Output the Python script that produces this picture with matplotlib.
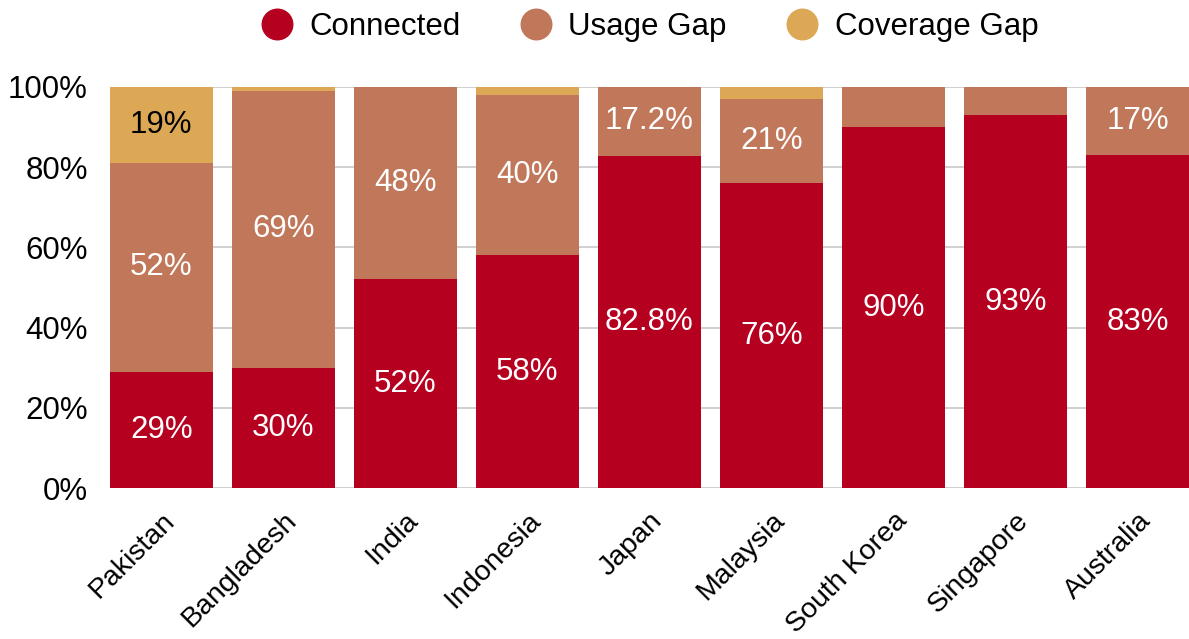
import matplotlib.pyplot as plt
import numpy as np

plt.rcParams['font.family'] = ['Liberation Sans', 'DejaVu Sans']

countries = ['Pakistan', 'Bangladesh', 'India', 'Indonesia', 'Japan',
             'Malaysia', 'South Korea', 'Singapore', 'Australia']
connected = [29, 30, 52, 58, 82.8, 76, 90, 93, 83]
usage_gap = [52, 69, 48, 40, 17.2, 21, 10, 7, 17]
coverage_gap = [19, 1, 0, 2, 0, 3, 0, 0, 0]

# labels drawn on each segment (None = not labelled)
connected_labels = ['29%', '30%', '52%', '58%', '82.8%', '76%', '90%', '93%', '83%']
usage_labels = ['52%', '69%', '48%', '40%', '17.2%', '21%', None, None, '17%']
coverage_labels = ['19%', None, None, None, None, None, None, None, None]

colors = ['#B50020', '#C0775A', '#DCA855']
names = ['Connected', 'Usage Gap', 'Coverage Gap']
fs = 22.5

fig = plt.figure(figsize=(11.89, 6.39), dpi=100)
ax = fig.add_axes([110 / 1189, 1 - 488 / 639, 1079 / 1189, 401 / 639])

x = np.arange(len(countries))
width = 0.84
bottom = np.zeros(len(countries))
series = [connected, usage_gap, coverage_gap]
labels = [connected_labels, usage_labels, coverage_labels]
text_colors = ['white', 'white', 'black']

for vals, labs, col, name, tc in zip(series, labels, colors, names, text_colors):
    vals = np.array(vals, dtype=float)
    ax.bar(x, vals, width, bottom=bottom, color=col, label=name, zorder=2)
    for i, (v, lab) in enumerate(zip(vals, labs)):
        if lab:
            ax.text(x[i], bottom[i] + v / 2, lab, ha='center', va='center',
                    color=tc, fontsize=fs, zorder=3)
    bottom += vals

ax.set_xlim(-width / 2, len(countries) - 1 + width / 2)
ax.set_ylim(0, 100)
ax.set_yticks(range(0, 101, 20))
ax.set_yticklabels([f'{v}%' for v in range(0, 101, 20)], fontsize=fs)
ax.set_xticks(x)
ax.set_xticklabels(countries, rotation=45, ha='right', rotation_mode='anchor',
                   fontsize=20.5)
ax.tick_params(axis='both', length=0)
ax.tick_params(axis='y', pad=16)
ax.tick_params(axis='x', pad=14)
ax.grid(axis='y', color='#c8c8c8', linewidth=1.2, zorder=0)
ax.set_axisbelow(True)
for s in ax.spines.values():
    s.set_visible(False)

handles = [plt.Line2D([], [], marker='o', linestyle='', markersize=22,
                      color=c) for c in colors]
fig.legend(handles, names, loc='center', bbox_to_anchor=(0.545, 1 - 27 / 639),
           ncol=3, frameon=False, fontsize=fs, handletextpad=0.45,
           columnspacing=1.8, handlelength=1.2)

fig.savefig('out.png', dpi=100)
